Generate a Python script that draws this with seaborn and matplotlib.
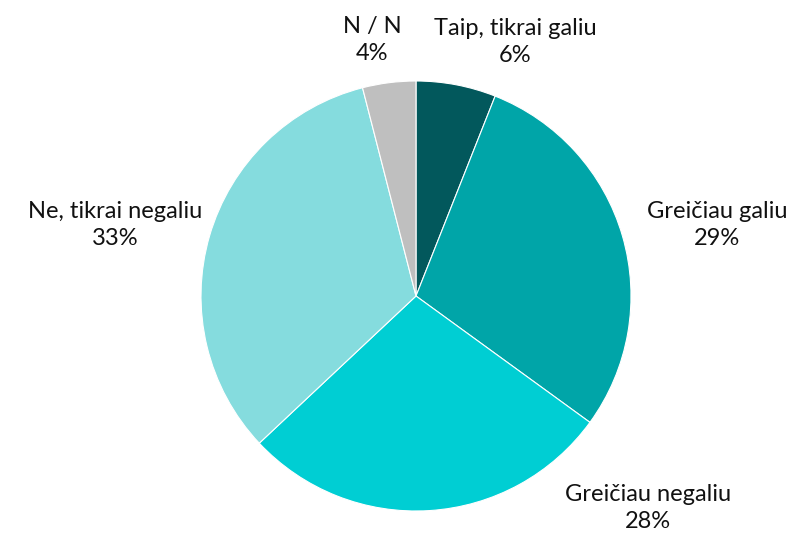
import matplotlib
matplotlib.use("Agg")
import matplotlib.pyplot as plt
import seaborn as sns

sns.set_theme(style="white")
plt.rcParams['font.family'] = ['Lato', 'DejaVu Sans']

categories = ["Taip, tikrai galiu", "Greičiau galiu", "Greičiau negaliu", "Ne, tikrai negaliu", "N / N"]
values = [6, 29, 28, 33, 4]
colors = ["#02585C", "#00A5A8", "#00CED3", "#85DCDE", "#BFBFBF"]
label_pos = [(0.46, 1.18), (1.40, 0.33), (1.08, -0.985), (-1.40, 0.33), (-0.205, 1.19)]

fig = plt.figure(figsize=(7.9, 5.35), dpi=100)
ax = fig.add_axes([0, 0, 1, 1])
ax.pie(values, colors=colors, startangle=90, counterclock=False,
       radius=1, wedgeprops=dict(edgecolor="white", linewidth=0.8))
for cat, v, (x, y) in zip(categories, values, label_pos):
    ax.text(x, y, f"{cat}\n{v}%", ha="center", va="center", fontsize=17,
            color="#111111", linespacing=1.35)
ax.set_aspect("auto")
ax.set_xlim(-416/215, (790-416)/215)
ax.set_ylim(-239/215, (535-239)/215)
ax.axis("off")
fig.savefig("out.png", dpi=100)
